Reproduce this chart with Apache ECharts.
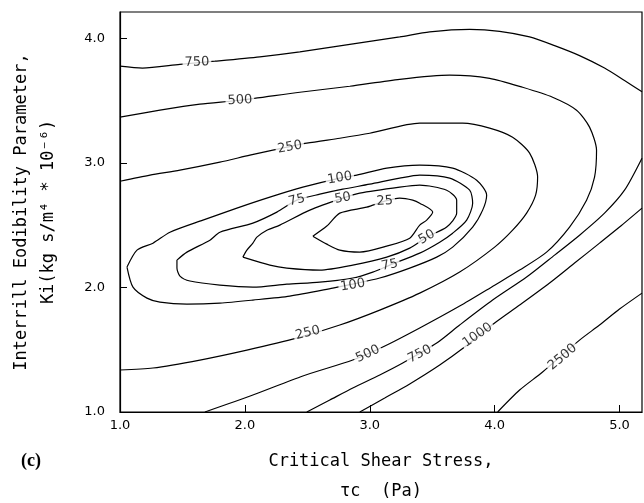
<!DOCTYPE html>
<html>
<head>
<meta charset="utf-8">
<script src="https://cdn.jsdelivr.net/npm/echarts@6/dist/echarts.min.js"></script>
<style>
  html, body { margin: 0; padding: 0; background: #fff; }
  #chart { width: 644px; height: 503px; }
</style>
</head>
<body>
<div id="chart"></div>
<script>
// contour lines, [shear stress, Ki]
const c750Upper = [[1.0,3.775],[1.18,3.76],[1.48,3.79],[1.76,3.815],[2.12,3.85],[2.44,3.89],[2.84,3.95],[3.24,4.01],[3.48,4.05],[3.80,4.07],[4.04,4.055],[4.28,4.01],[4.48,3.94],[4.68,3.86],[4.88,3.76],[5.04,3.66],[5.18,3.57]]
const c500 = [[1.0,3.366],[1.32,3.422],[1.64,3.47],[1.96,3.502],[2.44,3.566],[2.84,3.614],[3.24,3.67],[3.64,3.703],[3.96,3.678],[4.224,3.606],[4.464,3.526],[4.656,3.422],[4.76,3.286],[4.816,3.101],[4.80,2.885],[4.736,2.70],[4.60,2.484],[4.416,2.283],[4.20,2.139],[4.00,2.018],[3.72,1.85],[3.40,1.674],[3.104,1.521],[2.864,1.417],[2.464,1.289],[2.064,1.136],[1.68,1.0]]
const c750Lower = [[5.18,3.037],[5.04,2.78],[4.88,2.596],[4.68,2.419],[4.48,2.259],[4.256,2.083],[3.984,1.898],[3.72,1.698],[3.536,1.553],[3.264,1.393],[3.08,1.297],[2.864,1.192],[2.68,1.096],[2.496,1.0]]
const c1000 = [[2.92,1.0],[3.12,1.112],[3.32,1.225],[3.56,1.377],[3.76,1.521],[4.00,1.714],[4.20,1.858],[4.44,2.035],[4.64,2.195],[4.84,2.355],[5.00,2.484],[5.18,2.636]]
const c2500 = [[4.024,1.0],[4.20,1.176],[4.384,1.321],[4.68,1.577],[4.84,1.698],[5.00,1.826],[5.18,1.954]]
const c250 = [[1.0,2.852],[1.24,2.901],[1.48,2.941],[1.80,3.005],[2.04,3.061],[2.224,3.101],[2.496,3.157],[2.76,3.197],[3.00,3.237],[3.40,3.318],[3.744,3.318],[3.96,3.278],[4.144,3.205],[4.28,3.077],[4.344,2.885],[4.328,2.74],[4.256,2.596],[4.144,2.459],[4.00,2.323],[3.72,2.123],[3.40,1.954],[3.08,1.818],[2.76,1.698],[2.416,1.593],[2.016,1.497],[1.64,1.417],[1.264,1.353],[1.0,1.337]]
const c100 = [[1.056,2.163],[1.136,2.299],[1.264,2.355],[1.40,2.443],[1.664,2.54],[1.936,2.636],[2.20,2.724],[2.464,2.804],[2.76,2.877],[2.896,2.901],[3.136,2.957],[3.40,2.981],[3.664,2.957],[3.856,2.86],[3.936,2.74],[3.904,2.62],[3.824,2.484],[3.664,2.323],[3.536,2.243],[3.32,2.155],[3.08,2.075],[2.864,2.026],[2.704,1.994],[2.36,1.93],[2.064,1.898],[1.80,1.874],[1.536,1.866],[1.32,1.882],[1.216,1.914],[1.104,2.002],[1.056,2.163]]
const c75 = [[1.456,2.219],[1.536,2.283],[1.72,2.379],[1.80,2.443],[2.064,2.516],[2.256,2.604],[2.416,2.70],[2.60,2.748],[2.784,2.788],[3.00,2.828],[3.24,2.877],[3.40,2.901],[3.64,2.877],[3.80,2.78],[3.824,2.676],[3.776,2.54],[3.664,2.435],[3.56,2.363],[3.40,2.275],[3.16,2.179],[3.024,2.123],[2.864,2.075],[2.60,2.043],[2.336,2.026],[2.064,2.002],[1.80,2.018],[1.56,2.051],[1.48,2.091],[1.456,2.155],[1.456,2.219]]
const c50 = [[1.984,2.243],[2.016,2.299],[2.064,2.355],[2.096,2.403],[2.176,2.459],[2.28,2.50],[2.52,2.62],[2.784,2.716],[2.92,2.756],[3.24,2.804],[3.40,2.82],[3.616,2.78],[3.696,2.70],[3.696,2.596],[3.616,2.484],[3.456,2.403],[3.32,2.315],[3.136,2.243],[2.864,2.179],[2.60,2.139],[2.336,2.155],[2.20,2.179],[1.984,2.243]]
const c25 = [[2.544,2.411],[2.656,2.492],[2.76,2.596],[2.976,2.644],[3.12,2.692],[3.24,2.716],[3.344,2.70],[3.40,2.676],[3.504,2.604],[3.456,2.54],[3.40,2.50],[3.32,2.395],[3.136,2.331],[2.92,2.283],[2.76,2.299],[2.656,2.347],[2.544,2.411]]

// in-line contour labels [x, y, text] and their tilt in degrees
const contourLabels = [
  [1.616,3.807,'750'],[1.96,3.502,'500'],[2.36,3.125,'250'],[2.76,2.877,'100'],
  [2.416,2.70,'75'],[2.784,2.716,'50'],[3.12,2.692,'25'],[3.456,2.403,'50'],
  [3.16,2.179,'75'],[2.864,2.018,'100'],[2.504,1.634,'250'],[2.984,1.465,'500'],
  [3.40,1.465,'750'],[3.864,1.617,'1000'],[4.544,1.441,'2500']
]
const labelAngles = [2, 3, 10, 9, 14, 10, 4, 30, 12, 9, 14, 25, 27, 35, 40]

const xTicks = [1, 2, 3, 4, 5]
const yTicks = [1, 2, 3, 4]

const contours = [c750Upper, c500, c750Lower, c1000, c2500, c250, c100, c75, c50, c25]

const chartInstance = echarts.init(document.getElementById('chart'))

const lineSeries = contours.map(pts => ({
  type: 'line',
  data: pts,
  symbol: 'none',
  smooth: 0.25,
  silent: true,
  lineStyle: { color: '#000', width: 1.2 }
}))

const labelSeries = {
  type: 'scatter',
  symbolSize: 0,
  silent: true,
  z: 5,
  data: contourLabels.map((l, i) => ({
    value: [l[0], l[1]],
    label: { rotate: labelAngles[i] }
  })),
  label: {
    show: true,
    position: 'inside',
    formatter: p => contourLabels[p.dataIndex][2],
    fontFamily: 'DejaVu Sans',
    fontSize: 13,
    color: '#000',
    backgroundColor: '#fff',
    padding: [0, 2]
  }
}

const option = {
  animation: false,
  backgroundColor: '#fff',
  grid: {
    left: 120, right: 2, top: 12, bottom: 91,
    outerBoundsMode: 'none',
    show: true,
    borderColor: '#000',
    borderWidth: 1.2
  },
  xAxis: {
    type: 'value',
    min: 1, max: 5.18,
    name: 'Critical Shear Stress,\nτc  (Pa)',
    nameLocation: 'middle',
    nameGap: 35,
    nameTextStyle: { fontFamily: 'DejaVu Sans Mono', fontSize: 17, lineHeight: 30, color: '#000' },
    axisLine: { lineStyle: { color: '#000', width: 1.2 } },
    axisTick: { inside: true, length: 7, customValues: xTicks, lineStyle: { color: '#000' } },
    axisLabel: {
      customValues: xTicks,
      margin: 7,
      fontFamily: 'DejaVu Sans', fontSize: 13, color: '#000',
      formatter: v => v.toFixed(1)
    },
    splitLine: { show: false }
  },
  yAxis: {
    type: 'value',
    min: 1, max: 4.21,
    name: 'Interrill Eodibility Parameter,\nKi(kg s/m⁴ * 10⁻⁶)',
    nameLocation: 'middle',
    nameRotate: 90,
    nameGap: 58,
    nameTextStyle: { fontFamily: 'DejaVu Sans Mono', fontSize: 17, lineHeight: 27, color: '#000' },
    axisLine: { lineStyle: { color: '#000', width: 1.2 } },
    axisTick: { inside: true, length: 7, customValues: yTicks, lineStyle: { color: '#000' } },
    axisLabel: {
      customValues: yTicks,
      margin: 15,
      fontFamily: 'DejaVu Sans', fontSize: 13, color: '#000',
      formatter: v => v.toFixed(1)
    },
    splitLine: { show: false }
  },
  graphic: [{
    type: 'text',
    left: 21, top: 452,
    style: { text: '(c)', font: 'bold 18px "Liberation Serif"', fill: '#000' }
  }],
  series: [...lineSeries, labelSeries]
}

chartInstance.setOption(option)
window.addEventListener('resize', () => chartInstance.resize())
</script>
</body>
</html>
